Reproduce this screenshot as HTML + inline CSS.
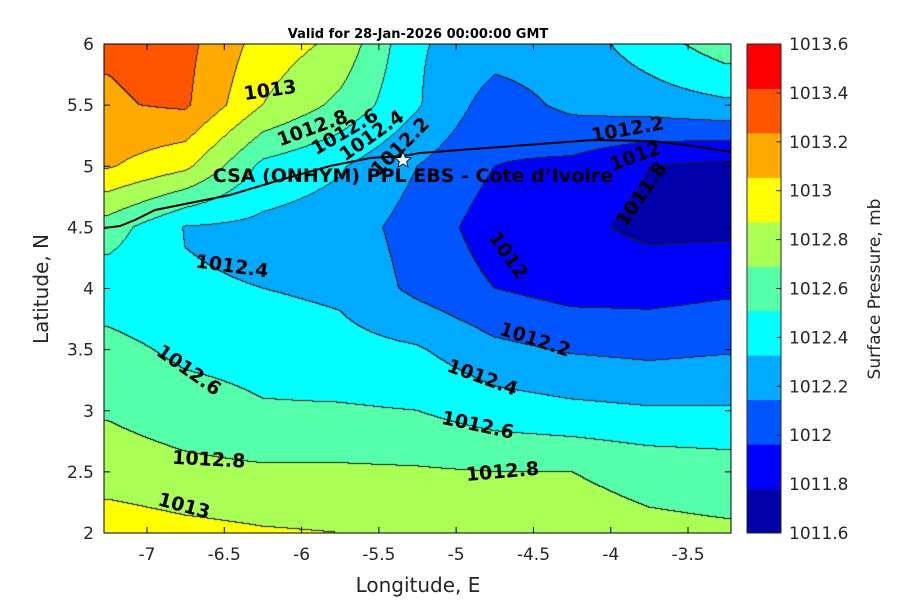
<!DOCTYPE html>
<html><head><meta charset="utf-8"><style>
body{margin:0;background:#fff;font-family:"DejaVu Sans","Liberation Sans",sans-serif}
#wrap{position:relative;width:900px;height:600px}
canvas{position:absolute;left:104px;top:44px}
svg{position:absolute;left:0;top:0}
</style></head><body>
<div id="wrap">
<canvas id="cv" width="627" height="489"></canvas>
<svg id="sv" width="900" height="600"></svg>
</div>
<script>
const lons=[-7.25,-6.75,-6.25,-5.75,-5.25,-4.75,-4.25,-3.75,-3.25];
const lats=[6,5.5,5,4.5,4,3.5,3,2.5,2];
const pressure=[
[1013.42,1013.46,1013.12,1012.95,1012.42,1012.3,1012.3,1012.5,1012.72],
[1013.38,1013.43,1013.0,1012.75,1012.42,1012.1,1012.25,1012.3,1012.36],
[1013.22,1013.05,1012.55,1012.42,1012.2,1012.0,1011.95,1011.8,1011.75],
[1012.7,1012.39,1012.35,1012.3,1012.12,1011.9,1011.85,1011.75,1011.75],
[1012.48,1012.42,1012.4,1012.36,1012.15,1012.0,1011.92,1011.92,1011.96],
[1012.67,1012.55,1012.52,1012.47,1012.42,1012.25,1012.18,1012.15,1012.18],
[1012.78,1012.7,1012.62,1012.62,1012.6,1012.5,1012.45,1012.42,1012.42],
[1012.9,1012.85,1012.83,1012.83,1012.82,1012.8,1012.8,1012.73,1012.7],
[1013.12,1013.06,1013.02,1013.0,1012.95,1012.92,1012.9,1012.85,1012.83]];
const levels=[1011.6,1011.8,1012,1012.2,1012.4,1012.6,1012.8,1013,1013.2,1013.4,1013.6];
const colors=["#0000aa","#0000ff","#0055ff","#00aaff","#00ffff","#55ffaa","#aaff55","#ffff00","#ffaa00","#ff5500","#ff0000"];
const xTicks=[-7,-6.5,-6,-5.5,-5,-4.5,-4,-3.5];
const yTicks=[2,2.5,3,3.5,4,4.5,5,5.5,6];
const labels=[
["1013",-6.204,5.62,-8],["1012.8",-5.93,5.31,-20],["1012.6",-5.72,5.28,-30],["1012.4",-5.545,5.25,-35],["1012.2",-5.36,5.16,-45],
["1012.2",-3.89,5.30,-10],["1012",-3.84,5.08,-20],["1011.8",-3.80,4.77,-55],["1012",-4.665,4.27,55],
["1012.4",-6.45,4.18,8],["1012.2",-4.49,3.58,18],["1012.4",-4.83,3.27,20],["1012.6",-6.73,3.33,35],
["1012.6",-4.86,2.88,12],["1012.8",-6.60,2.60,3],["1012.8",-4.70,2.50,-5],["1013",-6.76,2.22,15]];
const L=104,T=44,W=627,H=489,lon0=-7.278,lon1=-3.222,lat0=2,lat1=6;
const sx=v=>L+(v-lon0)/(lon1-lon0)*W, sy=v=>T+(lat1-v)/(lat1-lat0)*H;
function val(lon,lat){
 let fi=(lon-lons[0])/(lons[1]-lons[0]); fi=Math.max(0,Math.min(lons.length-1.0001,fi));
 let fj=(lats[0]-lat)/(lats[0]-lats[1]); fj=Math.max(0,Math.min(lats.length-1.0001,fj));
 const i=Math.floor(fi),j=Math.floor(fj),a=fi-i,b=fj-j;
 return pressure[j][i]*(1-a)*(1-b)+pressure[j][i+1]*a*(1-b)+pressure[j+1][i]*(1-a)*b+pressure[j+1][i+1]*a*b;
}
function lev(v){let k=0;for(let i=1;i<levels.length;i++)if(v>=levels[i])k=i;return k;}
const cv=document.getElementById('cv'),ctx=cv.getContext('2d');
const img=ctx.createImageData(W,H);const K=new Int8Array(W*H);
for(let y=0;y<H;y++)for(let x=0;x<W;x++){
 const lon=lon0+(x+0.5)/W*(lon1-lon0),lat=lat1-(y+0.5)/H*(lat1-lat0);K[y*W+x]=lev(val(lon,lat));}
const rgb=colors.map(c=>[parseInt(c.substr(1,2),16),parseInt(c.substr(3,2),16),parseInt(c.substr(5,2),16)]);
for(let y=0;y<H;y++)for(let x=0;x<W;x++){
 const k=K[y*W+x];let c=rgb[k];
 if((x<W-1&&K[y*W+x+1]!==k)||(y<H-1&&K[(y+1)*W+x]!==k))c=[30,30,30];
 const p=(y*W+x)*4;img.data[p]=c[0];img.data[p+1]=c[1];img.data[p+2]=c[2];img.data[p+3]=255;}
ctx.putImageData(img,0,0);
const sv=document.getElementById('sv');const NS='http://www.w3.org/2000/svg';
function mk(t,at,txt){const e=document.createElementNS(NS,t);for(const k in at)e.setAttribute(k,at[k]);if(txt!==undefined)e.textContent=txt;sv.appendChild(e);return e;}
let e=mk('polyline',{points:"104,228 120,226 135,220 155,210 190,203 230,195 280,180 330,166 370,158 403,156 420,153 500,147 593,140 653,141 700,147 731,152",fill:"none",stroke:"#000","stroke-width":2});

labels.forEach(l=>{const x=sx(l[1]),y=sy(l[2]);
 const t=mk('text',{x:x,y:y,transform:`rotate(${l[3]} ${x} ${y})`,"text-anchor":"middle","dominant-baseline":"central","font-size":19,"font-weight":"bold",fill:"#000"},l[0]);
 });
e=mk('text',{x:413,y:182,"text-anchor":"middle","font-size":19,"font-weight":"bold"},"CSA (ONHYM) PPL EBS - Cote d’Ivoire");

e=mk('polygon',{points:"403,152 405.3,157.5 411,157.8 406.6,161.5 408,167 403,164 398,167 399.4,161.5 395,157.8 400.7,157.5",fill:"#fff",stroke:"#000","stroke-width":0.8});

e=mk('rect',{x:L,y:T,width:W,height:H,fill:"none",stroke:"#000","stroke-width":1});

xTicks.forEach(v=>{const x=sx(v);mk('line',{x1:x,x2:x,y1:T+H,y2:T+H-6,stroke:"#000"});mk('line',{x1:x,x2:x,y1:T,y2:T+6,stroke:"#000"});
 const t=mk('text',{x:x,y:560,"text-anchor":"middle","font-size":17,fill:"#262626"},String(v));});
yTicks.forEach(v=>{const y=sy(v);mk('line',{x1:L,x2:L+6,y1:y,y2:y,stroke:"#000"});mk('line',{x1:L+W,x2:L+W-6,y1:y,y2:y,stroke:"#000"});
 const t=mk('text',{x:94,y:y+6,"text-anchor":"end","font-size":17,fill:"#262626"},String(v));});
e=mk('text',{x:418,y:592,"text-anchor":"middle","font-size":20,fill:"#262626"},"Longitude, E");
e=mk('text',{x:48,y:289,"text-anchor":"middle","font-size":20,fill:"#262626",transform:"rotate(-90 48 289)"},"Latitude, N");
e=mk('text',{x:418,y:38,"text-anchor":"middle","font-size":13,"font-weight":"bold"},"Valid for 28-Jan-2026 00:00:00 GMT");
const cbx=747,cbw=34,cbT=44,cbH=489,ch=cbH/colors.length,th=cbH/(levels.length-1);
colors.forEach((c,i)=>{const r=mk('rect',{x:cbx,y:cbT+cbH-(i+1)*ch,width:cbw,height:ch+0.5,fill:c});});
mk('rect',{x:cbx,y:cbT,width:cbw,height:cbH,fill:"none",stroke:"#262626"});
levels.forEach((v,i)=>{const y=cbT+cbH-i*th;mk('line',{x1:cbx+cbw,x2:cbx+cbw-5,y1:y,y2:y,stroke:"#262626"});
 const t=mk('text',{x:789,y:y+6,"font-size":17,fill:"#262626"},String(v));});
e=mk('text',{x:880,y:289,"text-anchor":"middle","font-size":17,fill:"#262626",transform:"rotate(-90 880 289)"},"Surface Pressure, mb");
</script>
</body></html>
